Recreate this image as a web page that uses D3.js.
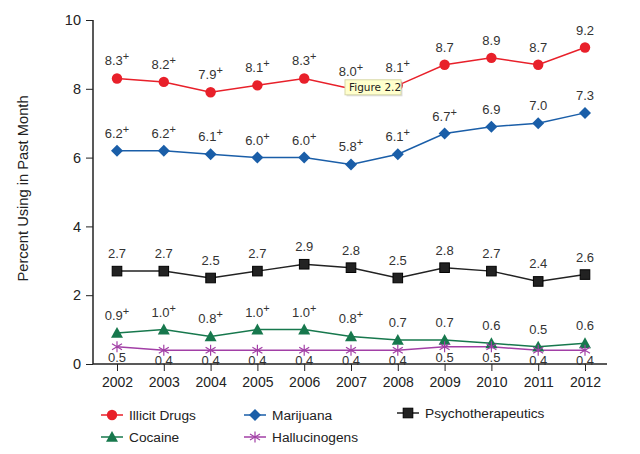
<!DOCTYPE html>
<html>
<head>
<meta charset="utf-8">
<script src="https://cdn.jsdelivr.net/npm/d3@7"></script>
<style>
  body { margin: 0; background: #fff; }
  svg { font-family: "Liberation Sans", Arial, sans-serif; }
</style>
</head>
<body>
<div id="chart"></div>
<script>
const years = [2002, 2003, 2004, 2005, 2006, 2007, 2008, 2009, 2010, 2011, 2012];
const yTicks = [0, 2, 4, 6, 8, 10];

const illicit = [8.3, 8.2, 7.9, 8.1, 8.3, 8.0, 8.1, 8.7, 8.9, 8.7, 9.2];
const illicitPlus = [1, 1, 1, 1, 1, 1, 1, 0, 0, 0, 0];
const marijuana = [6.2, 6.2, 6.1, 6.0, 6.0, 5.8, 6.1, 6.7, 6.9, 7.0, 7.3];
const marijuanaPlus = [1, 1, 1, 1, 1, 1, 1, 1, 0, 0, 0];
const psycho = [2.7, 2.7, 2.5, 2.7, 2.9, 2.8, 2.5, 2.8, 2.7, 2.4, 2.6];
const psychoPlus = [0, 0, 0, 0, 0, 0, 0, 0, 0, 0, 0];
const cocaine = [0.9, 1.0, 0.8, 1.0, 1.0, 0.8, 0.7, 0.7, 0.6, 0.5, 0.6];
const cocainePlus = [1, 1, 1, 1, 1, 1, 0, 0, 0, 0, 0];
const halluc = [0.5, 0.4, 0.4, 0.4, 0.4, 0.4, 0.4, 0.5, 0.5, 0.4, 0.4];
const hallucPlus = [0, 0, 0, 0, 0, 0, 0, 0, 0, 0, 0];

const series = [
  { name: "Illicit Drugs", values: illicit, plus: illicitPlus, color: "#e8202a", shape: "circle", below: false },
  { name: "Marijuana", values: marijuana, plus: marijuanaPlus, color: "#1a5ea8", shape: "diamond", below: false },
  { name: "Psychotherapeutics", values: psycho, plus: psychoPlus, color: "#222222", shape: "square", below: false },
  { name: "Cocaine", values: cocaine, plus: cocainePlus, color: "#17784d", shape: "triangle", below: false },
  { name: "Hallucinogens", values: halluc, plus: hallucPlus, color: "#a23fa6", shape: "asterisk", below: true }
];

const width = 640, height = 454;
const svg = d3.select("#chart").append("svg").attr("width", width).attr("height", height);

const x = d3.scalePoint().domain(years).range([117, 585]);
const y = d3.scaleLinear().domain([0, 10]).range([364, 20]);

// axes
const yAxis = svg.append("g").attr("transform", "translate(93,0)")
  .call(d3.axisLeft(y).tickValues(yTicks).tickSize(7).tickPadding(5).tickFormat(d3.format("d")));
yAxis.select(".domain").attr("d", `M0,${y(10)}V${y(0)}`).attr("stroke", "#222").attr("stroke-width", 1.5);
yAxis.selectAll(".tick line").attr("stroke", "#222");
yAxis.selectAll(".tick text").attr("font-size", 14.5).attr("fill", "#222");

const xAxis = svg.append("g").attr("transform", `translate(0,${y(0)})`)
  .call(d3.axisBottom(x).tickSize(7).tickPadding(6).tickFormat(d3.format("d")));
xAxis.select(".domain").attr("d", "M93,0H607").attr("stroke", "#222").attr("stroke-width", 1.5);
xAxis.selectAll(".tick line").attr("stroke", "#222");
xAxis.selectAll(".tick text").attr("font-size", 14).attr("fill", "#222");

svg.append("text")
  .attr("transform", "translate(28,188.5) rotate(-90)")
  .attr("text-anchor", "middle")
  .attr("font-size", 14.7)
  .attr("fill", "#222")
  .text("Percent Using in Past Month");

function drawMarker(g, shape, color) {
  if (shape === "circle") {
    g.append("circle").attr("r", 5.2).attr("fill", color);
  } else if (shape === "diamond") {
    g.append("path").attr("d", "M0,-6L6,0L0,6L-6,0Z").attr("fill", color);
  } else if (shape === "square") {
    g.append("rect").attr("x", -4.8).attr("y", -4.8).attr("width", 9.6).attr("height", 9.6)
      .attr("fill", "#222").attr("stroke", "#000").attr("stroke-width", 1);
  } else if (shape === "triangle") {
    g.append("path").attr("d", "M0,-6L6,4.8L-6,4.8Z").attr("fill", color);
  } else if (shape === "asterisk") {
    g.append("path").attr("d", "M0,-5.5V5.5M-5,-3L5,3M-5,3L5,-3")
      .attr("stroke", color).attr("stroke-width", 1.2).attr("fill", "none");
  }
}

const line = d3.line().x((d, i) => x(years[i])).y(d => y(d));

series.forEach(s => {
  svg.append("path").datum(s.values)
    .attr("d", line).attr("fill", "none").attr("stroke", s.color).attr("stroke-width", 1.5);
});

series.forEach(s => {
  s.values.forEach((v, i) => {
    const g = svg.append("g").attr("transform", `translate(${x(years[i])},${y(v)})`);
    drawMarker(g, s.shape, s.color);
  });
});

series.forEach(s => {
  s.values.forEach((v, i) => {
    const t = svg.append("text")
      .attr("x", x(years[i]))
      .attr("y", s.below ? y(v) + 15 : y(v) - 13)
      .attr("text-anchor", "middle")
      .attr("font-size", 13)
      .attr("fill", "#333");
    t.append("tspan").text(v.toFixed(1));
    if (s.plus[i]) t.append("tspan").attr("dy", -5).attr("font-size", 11).text("+");
  });
});

// tooltip visible in the screenshot
const tip = svg.append("g").attr("transform", `translate(${x(2007) - 6},${y(8.0) - 9})`);
tip.append("rect").attr("x", 1.5).attr("y", 1.5).attr("width", 56).attr("height", 15).attr("fill", "#bbb").attr("opacity", 0.5);
tip.append("rect").attr("width", 56).attr("height", 15).attr("fill", "#ffffcc").attr("stroke", "#d8d8a8");
tip.append("text").attr("x", 4).attr("y", 11.5).attr("font-size", 10.5).attr("fill", "#222")
  .attr("font-family", "DejaVu Sans, sans-serif").text("Figure 2.2");

// legend
const legendPos = [
  { x: 101, y: 415 }, { x: 244, y: 415 }, { x: 397, y: 413 },
  { x: 101, y: 437 }, { x: 244, y: 437 }
];
series.forEach((s, i) => {
  const p = legendPos[i];
  const g = svg.append("g").attr("transform", `translate(${p.x},${p.y})`);
  g.append("line").attr("x1", 0).attr("x2", 22).attr("stroke", s.color).attr("stroke-width", 1.5);
  const m = g.append("g").attr("transform", "translate(11,0)");
  drawMarker(m, s.shape, s.color);
  g.append("text").attr("x", 28).attr("y", 5).attr("font-size", 13.7).attr("fill", "#222").text(s.name);
});
</script>
</body>
</html>
